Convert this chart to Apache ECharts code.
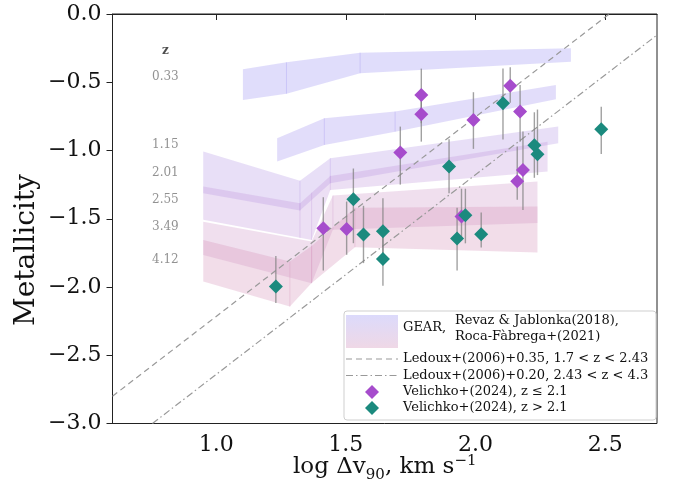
<!DOCTYPE html>
<html>
<head>
<meta charset="utf-8">
<script src="https://cdn.jsdelivr.net/npm/echarts@6/dist/echarts.min.js"></script>
<style>
  html, body { margin: 0; padding: 0; background: #fff; }
  #chart { width: 676px; height: 495px; }
</style>
</head>
<body>
<div id="chart"></div>
<script>
// ---- axis ticks ----
const xTicks = [1.0, 1.5, 2.0, 2.5];

// ---- GEAR model bands (log dv90, upper / lower metallicity) ----
const band033X  = [1.103, 1.271, 1.555, 2.368];
const band033Hi = [-0.405, -0.354, -0.283, -0.251];
const band033Lo = [-0.630, -0.584, -0.434, -0.349];

const band115X  = [1.235, 1.417, 1.690, 2.310];
const band115Hi = [-0.910, -0.764, -0.715, -0.520];
const band115Lo = [-1.081, -0.959, -0.862, -0.625];

const band201X  = [0.950, 1.323, 1.440, 2.319];
const band201Hi = [-1.008, -1.221, -1.057, -0.825];
const band201Lo = [-1.313, -1.440, -1.240, -0.947];

const band255X  = [0.950, 1.323, 1.368, 1.440, 2.278];
const band255Hi = [-1.264, -1.386, -1.309, -1.186, -0.935];
const band255Lo = [-1.508, -1.640, -1.655, -1.290, -1.154];

const band349X  = [0.950, 1.368, 1.450, 2.239];
const band349Hi = [-1.522, -1.667, -1.330, -1.228];
const band349Lo = [-1.765, -1.972, -1.580, -1.532];

const band412X  = [0.950, 1.284, 1.368, 1.535, 2.239];
const band412Hi = [-1.655, -1.813, -1.700, -1.420, -1.410];
const band412Lo = [-1.960, -2.143, -1.970, -1.708, -1.747];

// redshift labels beside the bands
const zLabelText = ['z', '0.33', '1.15', '2.01', '2.55', '3.49', '4.12'];
const zLabelY    = [-0.269, -0.459, -0.959, -1.166, -1.362, -1.559, -1.800];
const zLabelX    = 0.804;

// ---- Ledoux+(2006) relations, end points on the frame ----
const ledoux035 = [[0.60, -2.80], [2.516, 0.0]];
const ledoux020 = [[0.754, -3.0], [2.70, -0.154]];

// ---- Velichko+(2024), z <= 2.1 ----
const lowzX  = [1.791, 1.791, 1.992, 2.134, 2.172, 2.183, 2.161, 1.946, 1.710, 1.413, 1.503];
const lowzY  = [-0.593, -0.734, -0.776, -0.525, -0.715, -1.142, -1.225, -1.484, -1.015, -1.569, -1.576];
const lowzLo = [-0.800, -0.935, -0.988, -0.650, -0.935, -1.435, -1.360, -1.660, -1.250, -1.879, -1.764];
const lowzHi = [-0.400, -0.550, -0.573, -0.390, -0.520, -0.860, -0.970, -1.280, -0.825, -1.342, -1.374];

// ---- Velichko+(2024), z > 2.1 ----
const highzX  = [2.106, 2.485, 2.227, 2.239, 1.898, 1.961, 1.929, 2.022, 1.529, 1.568, 1.643, 1.643, 1.230];
const highzY  = [-0.654, -0.844, -0.961, -1.027, -1.118, -1.474, -1.645, -1.613, -1.357, -1.615, -1.591, -1.794, -1.996];
const highzLo = [-0.920, -1.025, -1.200, -1.180, -1.313, -1.680, -1.880, -1.710, -1.679, -1.825, -1.800, -1.990, -2.118];
const highzHi = [-0.400, -0.680, -0.720, -0.700, -0.918, -1.280, -1.420, -1.455, -1.132, -1.405, -1.350, -1.600, -1.772];

const FONT = 'DejaVu Serif';
const PURPLE = '#a64ccc';
const TEAL = '#1b8a7e';

// a shaded band, drawn segment seams included
function bandSeries(xs, hi, lo, color) {
  return {
    type: 'custom',
    coordinateSystem: 'cartesian2d',
    silent: true,
    z: 1,
    data: [[xs[0], hi[0]]],
    renderItem: function (params, api) {
      const pts = [];
      for (let i = 0; i < xs.length; i++) pts.push(api.coord([xs[i], hi[i]]));
      for (let i = xs.length - 1; i >= 0; i--) pts.push(api.coord([xs[i], lo[i]]));
      const children = [{ type: 'polygon', shape: { points: pts }, style: { fill: color } }];
      for (let i = 1; i < xs.length - 1; i++) {
        const a = api.coord([xs[i], hi[i]]);
        const b = api.coord([xs[i], lo[i]]);
        children.push({ type: 'line', shape: { x1: a[0], y1: a[1], x2: b[0], y2: b[1] },
          style: { stroke: color, lineWidth: 1 } });
      }
      return { type: 'group', children: children };
    }
  };
}

function errorSeries(xs, lo, hi) {
  return {
    type: 'custom',
    coordinateSystem: 'cartesian2d',
    silent: true,
    z: 3,
    data: xs.map((x, i) => [x, lo[i], hi[i]]),
    renderItem: function (params, api) {
      const a = api.coord([api.value(0), api.value(1)]);
      const b = api.coord([api.value(0), api.value(2)]);
      return {
        type: 'line',
        shape: { x1: a[0], y1: a[1], x2: b[0], y2: b[1] },
        style: { stroke: 'rgba(130,130,130,0.75)', lineWidth: 1.4 }
      };
    }
  };
}

const minus = v => (v < 0 ? '\u2212' + Math.abs(v).toFixed(1) : v.toFixed(1));

const chart = echarts.init(document.getElementById('chart'), null, { renderer: 'canvas' });

const legendFont = '13px "DejaVu Serif"';
const option = {
  animation: false,
  backgroundColor: '#fff',
  textStyle: { fontFamily: FONT },
  grid: {
    left: 112.5, right: 19, top: 14, bottom: 71.5,
    outerBoundsMode: 'none', containLabel: false,
    show: true, borderColor: '#222', borderWidth: 1, backgroundColor: 'transparent'
  },
  xAxis: {
    type: 'value', min: 0.6, max: 2.7,
    splitLine: { show: false },
    axisLine: { lineStyle: { color: '#222', width: 1 } },
    axisTick: { show: true, length: 6, lineStyle: { color: '#222' }, customValues: xTicks },
    axisLabel: { fontFamily: FONT, fontSize: 22, color: '#111', margin: 11, customValues: xTicks, formatter: v => v.toFixed(1) },
    name: 'log \u0394v{sub|90}, km s{sup|\u22121}',
    nameLocation: 'middle', nameGap: 32, nameMoveOverlap: false,
    nameTextStyle: {
      fontFamily: FONT, fontSize: 23, color: '#111',
      rich: {
        sub: { fontFamily: FONT, fontSize: 15, color: '#111', verticalAlign: 'bottom', padding: [0, 0, -4, 0] },
        sup: { fontFamily: FONT, fontSize: 15, color: '#111', verticalAlign: 'top', padding: [-2, 0, 0, 0] }
      }
    }
  },
  yAxis: {
    type: 'value', min: -3, max: 0, interval: 0.5,
    splitLine: { show: false },
    axisLine: { show: true, lineStyle: { color: '#222', width: 1 } },
    axisTick: { show: true, length: 6, lineStyle: { color: '#222' } },
    axisLabel: { fontFamily: FONT, fontSize: 22, color: '#111', margin: 11, formatter: minus }
  },
  series: [
    bandSeries(band033X, band033Hi, band033Lo, 'rgba(160,150,242,0.32)'),
    bandSeries(band115X, band115Hi, band115Lo, 'rgba(165,150,238,0.32)'),
    bandSeries(band201X, band201Hi, band201Lo, 'rgba(178,150,230,0.30)'),
    bandSeries(band255X, band255Hi, band255Lo, 'rgba(192,150,220,0.30)'),
    bandSeries(band349X, band349Hi, band349Lo, 'rgba(206,150,200,0.30)'),
    bandSeries(band412X, band412Hi, band412Lo, 'rgba(214,150,188,0.32)'),
    {
      type: 'line', data: ledoux035, symbol: 'none', silent: true, z: 2,
      lineStyle: { color: '#999', width: 1.2, type: [6, 4] }
    },
    {
      type: 'line', data: ledoux020, symbol: 'none', silent: true, z: 2,
      lineStyle: { color: '#999', width: 1.2, type: [7, 3, 1.5, 3] }
    },
    errorSeries(lowzX, lowzLo, lowzHi),
    errorSeries(highzX, highzLo, highzHi),
    {
      type: 'scatter', symbol: 'diamond', symbolSize: 14, z: 4,
      itemStyle: { color: PURPLE, opacity: 1 },
      data: lowzX.map((x, i) => [x, lowzY[i]])
    },
    {
      type: 'scatter', symbol: 'diamond', symbolSize: 14, z: 5,
      itemStyle: { color: TEAL, opacity: 1 },
      data: highzX.map((x, i) => [x, highzY[i]])
    },
    {
      type: 'scatter', symbolSize: 0, silent: true, z: 6,
      data: zLabelText.map((t, i) => ({
        value: [zLabelX, zLabelY[i]],
        label: i === 0
          ? { show: true, position: 'inside', formatter: t, fontFamily: FONT, fontSize: 12, fontWeight: 'bold', color: '#222' }
          : { show: true, position: 'inside', formatter: t, fontFamily: FONT, fontSize: 12, color: '#777' }
      }))
    }
  ],
  graphic: [
    {
      type: 'text', x: 27, y: 250, rotation: Math.PI / 2, z: 100,
      style: { text: 'Metallicity', font: '28px "DejaVu Serif"', fill: '#111', align: 'center', verticalAlign: 'middle' }
    },
    {
      type: 'group', z: 100,
      children: [
        { type: 'rect', shape: { x: 344, y: 311, width: 312, height: 109, r: 3 },
          style: { fill: 'rgba(255,255,255,0.85)', stroke: '#cfcfcf', lineWidth: 1 } },
        { type: 'rect', shape: { x: 346, y: 315, width: 52, height: 33 },
          style: { fill: new echarts.graphic.LinearGradient(0, 0, 0, 1, [
            { offset: 0, color: '#dcdafb' }, { offset: 1, color: '#efd8e6' }]) } },
        { type: 'text', x: 403, y: 328, style: { text: 'GEAR,', font: legendFont, fill: '#111', verticalAlign: 'middle' } },
        { type: 'text', x: 455, y: 321, style: { text: 'Revaz & Jablonka(2018),', font: legendFont, fill: '#111', verticalAlign: 'middle' } },
        { type: 'text', x: 455, y: 337, style: { text: 'Roca-F\u00e0brega+(2021)', font: legendFont, fill: '#111', verticalAlign: 'middle' } },
        { type: 'line', shape: { x1: 346, y1: 359, x2: 398, y2: 359 }, style: { stroke: '#999', lineWidth: 1.2, lineDash: [6, 4] } },
        { type: 'text', x: 403, y: 359, style: { text: 'Ledoux+(2006)+0.35, 1.7 < z < 2.43', font: legendFont, fill: '#111', verticalAlign: 'middle' } },
        { type: 'line', shape: { x1: 346, y1: 375.5, x2: 398, y2: 375.5 }, style: { stroke: '#999', lineWidth: 1.2, lineDash: [7, 3, 1.5, 3] } },
        { type: 'text', x: 403, y: 375.5, style: { text: 'Ledoux+(2006)+0.20, 2.43 < z < 4.3', font: legendFont, fill: '#111', verticalAlign: 'middle' } },
        { type: 'polygon', shape: { points: [[372, 385], [379, 392], [372, 399], [365, 392]] }, style: { fill: PURPLE } },
        { type: 'text', x: 403, y: 392, style: { text: 'Velichko+(2024), z \u2264 2.1', font: legendFont, fill: '#111', verticalAlign: 'middle' } },
        { type: 'polygon', shape: { points: [[372, 401], [379, 408], [372, 415], [365, 408]] }, style: { fill: TEAL } },
        { type: 'text', x: 403, y: 408, style: { text: 'Velichko+(2024), z > 2.1', font: legendFont, fill: '#111', verticalAlign: 'middle' } }
      ]
    }
  ]
};
chart.setOption(option);
</script>
</body>
</html>
